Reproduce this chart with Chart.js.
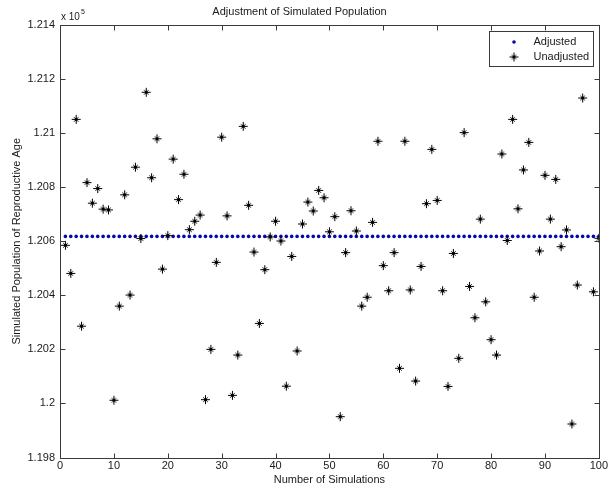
<!DOCTYPE html>
<html><head><meta charset="utf-8">
<script src="https://cdn.jsdelivr.net/npm/chart.js@4"></script>
<style>html,body{margin:0;padding:0;background:#fff}#c{display:block}</style>
</head><body>
<canvas id="c" width="610" height="490"></canvas>
<script>
const simulations = [1,2,3,4,5,6,7,8,9,10,11,12,13,14,15,16,17,18,19,20,21,22,23,24,25,26,27,28,29,30,31,32,33,34,35,36,37,38,39,40,41,42,43,44,45,46,47,48,49,50,51,52,53,54,55,56,57,58,59,60,61,62,63,64,65,66,67,68,69,70,71,72,73,74,75,76,77,78,79,80,81,82,83,84,85,86,87,88,89,90,91,92,93,94,95,96,97,98,99,100];
const adjusted = [120618,120618,120618,120618,120618,120618,120618,120618,120618,120618,120618,120618,120618,120618,120618,120618,120618,120618,120618,120618,120618,120618,120618,120618,120618,120618,120618,120618,120618,120618,120618,120618,120618,120618,120618,120618,120618,120618,120618,120618,120618,120618,120618,120618,120618,120618,120618,120618,120618,120618,120618,120618,120618,120618,120618,120618,120618,120618,120618,120618,120618,120618,120618,120618,120618,120618,120618,120618,120618,120618,120618,120618,120618,120618,120618,120618,120618,120618,120618,120618,120618,120618,120618,120618,120618,120618,120618,120618,120618,120618,120618,120618,120618,120618,120618,120618,120618,120618,120618,120618];
const unadjusted = [120585,120481,121051,120286,120817,120741,120795,120719,120716,120012,
  120360,120772,120401,120874,120610,121151,120835,120979,120497,120621,
  120904,120754,120848,120643,120674,120697,120014,120200,120522,120985,
  120694,120030,120179,121025,120733,120560,120296,120495,120616,120674,
  120601,120064,120544,120194,120664,120745,120712,120788,120761,120635,
  120691,119951,120558,120713,120638,120360,120393,120670,120970,120510,
  120417,120558,120130,120970,120420,120083,120507,120739,120940,120751,
  120417,120063,120555,120167,121002,120433,120317,120682,120376,120236,
  120179,120923,120603,121051,120720,120864,120966,120393,120564,120844,
  120682,120829,120580,120642,119924,120438,121130,null,120413,120611];
const xTickValues = [0,10,20,30,40,50,60,70,80,90,100];
const xTickLabels = ['0','10','20','30','40','50','60','70','80','90','100'];
const yTickValues = [119800,120000,120200,120400,120600,120800,121000,121200,121400];
const yTickLabels = ['1.198','1.2','1.202','1.204','1.206','1.208','1.21','1.212','1.214'];
const seriesNames = ['Adjusted','Unadjusted'];

const FONT = 'Arial, "Liberation Sans", Helvetica, sans-serif';
const TXT = '#1a1a1a';
const AX = '#3a3a3a';

const toPts = (vals) => simulations.map((s, i) => ({x: s, y: vals[i]}));

// MATLAB-like '*' marker
const starImg = (() => {
  const c = document.createElement('canvas');
  c.width = 11; c.height = 11;
  const g = c.getContext('2d');
  g.strokeStyle = '#000';
  g.lineWidth = 1;
  g.beginPath();
  g.moveTo(5.5, 1); g.lineTo(5.5, 10);
  g.moveTo(1, 5.5); g.lineTo(10, 5.5);
  g.stroke();
  g.globalAlpha = 0.75;
  g.beginPath();
  g.moveTo(3, 3); g.lineTo(8, 8);
  g.moveTo(8, 3); g.lineTo(3, 8);
  g.stroke();
  g.globalAlpha = 1;
  g.fillStyle = '#000';
  g.fillRect(4, 4, 3, 3);
  return c;
})();

const framePlugin = {
  id: 'frame',
  afterDraw(chart) {
    const ctx = chart.ctx, a = chart.chartArea;
    const xs = chart.scales.x, ys = chart.scales.y;
    ctx.save();
    ctx.strokeStyle = AX; ctx.lineWidth = 1;
    const L = Math.round(a.left) + 0.5, R = Math.round(a.right) + 0.5;
    const T = Math.round(a.top) + 0.5, B = Math.round(a.bottom) + 0.5;
    ctx.strokeRect(L, T, R - L, B - T);
    const tl = 5;
    ctx.beginPath();
    xTickValues.forEach(v => {
      const px = Math.round(xs.getPixelForValue(v)) + 0.5;
      ctx.moveTo(px, B); ctx.lineTo(px, B - tl);
      ctx.moveTo(px, T); ctx.lineTo(px, T + tl);
    });
    yTickValues.forEach(v => {
      const py = Math.round(ys.getPixelForValue(v)) + 0.5;
      ctx.moveTo(L, py); ctx.lineTo(L + tl, py);
      ctx.moveTo(R, py); ctx.lineTo(R - tl, py);
    });
    ctx.stroke();

    // exponent label
    ctx.fillStyle = TXT;
    ctx.textBaseline = 'alphabetic';
    ctx.textAlign = 'left';
    ctx.font = '10px ' + FONT;
    ctx.fillText('x 10', a.left + 1, a.top - 5);
    const w = ctx.measureText('x 10').width;
    ctx.font = '7px ' + FONT;
    ctx.fillText('5', a.left + 1 + w + 1, a.top - 11);

    // legend
    const lw = 104, lh = 35;
    const lx = Math.round(a.right - 6 - lw) + 0.5, ly = Math.round(a.top + 6) + 0.5;
    ctx.fillStyle = '#fff';
    ctx.fillRect(lx, ly, lw, lh);
    ctx.strokeStyle = AX;
    ctx.strokeRect(lx, ly, lw, lh);
    const order = [1, 0];
    order.forEach((di, row) => {
      const ds = chart.data.datasets[di];
      const cy = ly + 10 + row * 15;
      const mx = lx + 24;
      ctx.fillStyle = ds.pointBackgroundColor;
      ctx.strokeStyle = ds.pointBorderColor;
      ctx.lineWidth = ds.pointBorderWidth;
      Chart.helpers.drawPoint(ctx, {pointStyle: ds.pointStyle, radius: ds.pointRadius, borderWidth: ds.pointBorderWidth, rotation: 0}, Math.round(mx), Math.round(cy));
      ctx.fillStyle = TXT;
      ctx.font = '11px ' + FONT;
      ctx.textBaseline = 'middle';
      ctx.textAlign = 'left';
      ctx.fillText(ds.label, lx + 44, cy);
    });
    ctx.restore();
  }
};

new Chart(document.getElementById('c'), {
  type: 'scatter',
  data: {
    datasets: [
      {
        label: seriesNames[1],
        data: toPts(unadjusted),
        pointStyle: starImg,
        pointRadius: 5,
        pointBorderWidth: 1,
        pointBorderColor: '#000',
        pointBackgroundColor: '#000',
        showLine: false,
        order: 1
      },
      {
        label: seriesNames[0],
        data: toPts(adjusted),
        pointStyle: 'circle',
        pointRadius: 1.8,
        pointBorderWidth: 0,
        pointBorderColor: '#0808a8',
        pointBackgroundColor: '#0808a8',
        showLine: false,
        order: 2
      }
    ]
  },
  options: {
    responsive: false,
    animation: false,
    devicePixelRatio: 1,
    layout: { padding: { left: 0, right: 11, top: 0, bottom: 0 } },
    plugins: {
      legend: { display: false },
      tooltip: { enabled: false },
      title: {
        display: true,
        text: 'Adjustment of Simulated Population',
        color: TXT,
        font: { family: FONT, size: 11, weight: 'normal', lineHeight: 1.2 },
        padding: { top: 5, bottom: 6.8 }
      }
    },
    scales: {
      x: {
        type: 'linear',
        min: 0, max: 100,
        grid: { display: false, drawTicks: false },
        border: { display: false },
        ticks: {
          stepSize: 10, padding: 2, color: TXT, maxRotation: 0,
          font: { family: FONT, size: 11 },
          callback: (v) => { const i = xTickValues.indexOf(v); return i >= 0 ? xTickLabels[i] : ''; }
        },
        title: {
          display: true, text: 'Number of Simulations', color: TXT,
          font: { family: FONT, size: 11, lineHeight: 1.2 },
          padding: { top: 0, bottom: 3.4 }
        },
        afterFit: (s) => { s.height = 32.5; }
      },
      y: {
        type: 'linear',
        min: 119800, max: 121400,
        grid: { display: false, drawTicks: false },
        border: { display: false },
        ticks: {
          stepSize: 200, padding: 5, color: TXT,
          font: { family: FONT, size: 11 },
          callback: (v) => { const i = yTickValues.indexOf(v); return i >= 0 ? yTickLabels[i] : ''; }
        },
        title: {
          display: true, text: 'Simulated Population of Reproductive Age', color: TXT,
          font: { family: FONT, size: 11, lineHeight: 1.2 },
          padding: { top: 10, bottom: 0 }
        },
        afterFit: (s) => { s.width = 60; }
      }
    }
  },
  plugins: [framePlugin]
});
</script>
</body></html>
